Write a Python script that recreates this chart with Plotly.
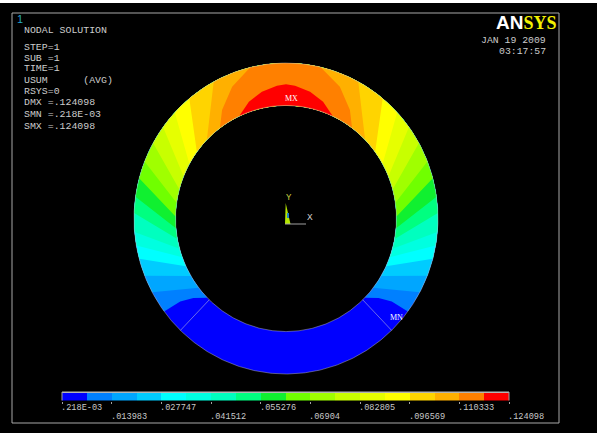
import numpy as np
import plotly.graph_objects as go

# Contour legend: bin edges (USUM) and one colour per bin
bin_edges = [0.000218, 0.0071, 0.013983, 0.020865, 0.027747, 0.03463, 0.041512, 0.048394, 0.055276,
             0.062158, 0.06904, 0.075922, 0.082805, 0.089687, 0.096569, 0.103451, 0.110333, 0.117215, 0.124098]
band_colors = ["#0000ff", "#0080ff", "#00a6ff", "#00ccff", "#00ffff", "#00ffe0", "#00ffbf", "#00ff80",
               "#10f030", "#70ff00", "#a0ff00", "#c8ff00", "#e6ff00", "#ffff00", "#ffd400", "#ffb000",
               "#ff8000", "#ff0000"]
tick_values = [0.000218, 0.013983, 0.027747, 0.041512, 0.055276, 0.06904, 0.082805, 0.096569, 0.110333, 0.124098]
tick_labels = [".218E-03", ".013983", ".027747", ".041512", ".055276", ".06904", ".082805", ".096569", ".110333", ".124098"]

# Contour boundaries on the ring: depth across the wall (0 inner, 1 outer) and the
# angle from the top, one pair of lists per boundary, from the blue end to the red end
boundary_depth = [
    [0, .25, .55, 1], [0, 1], [0, 1], [0, 1], [0, 1], [0, 1], [0, 1], [0, 1],
    [0, 1], [0, 1], [0, 1], [0, 1], [0, 1], [0, 1], [0, 1], [0, .32, .7, 1], [0, .23, .38, .47, .5],
]
boundary_angle = [
    [134.5, 130, 127.5, 126.7], [127.8, 118.3], [120.6, 111.6], [115, 105], [110, 100], [105.5, 95],
    [100.5, 88], [95, 82], [89, 75], [82, 68.5], [75, 61], [68, 54], [61, 47], [53.8, 39.5], [45.7, 28.4],
    [36.7, 31.1, 22.7, 13.6], [25, 18, 11, 4, 0],
]
RING_INNER = 0.727
RING_OUTER = 1.0
ELEMENT_LINE_ANGLE = 136

info_lines = [("NODAL SOLUTION", 30), ("STEP=1", 48), ("SUB =1", 58.5), ("TIME=1", 69), ("USUM      (AVG)", 80),
              ("RSYS=0", 91), ("DMX =.124098", 103), ("SMN =.218E-03", 114), ("SMX =.124098", 126)]
W, H = 597, 433
CX, CY, SX, SY = 286, 218.5, 152, 155.5


def px(x):
    return x / W


def py(y):
    return 1 - y / H


def polar(r, deg):
    t = np.radians(deg)
    return np.asarray(r) * np.sin(t), np.asarray(r) * np.cos(t)


def arc(r, a, b):
    return polar(r, np.linspace(a, b, max(2, int(abs(b - a)) * 2)))


def region(depth, angle):
    depth, angle = np.array(depth, float), np.array(angle, float)
    r = RING_INNER + depth * (RING_OUTER - RING_INNER)
    rx, ry = polar(r, angle)
    lx, ly = polar(r[::-1], -angle[::-1])
    xs, ys = [rx], [ry]
    if depth[-1] == 1:
        ax, ay = arc(RING_OUTER, angle[-1], -angle[-1])
        xs.append(ax); ys.append(ay)
    xs.append(lx); ys.append(ly)
    ax, ay = arc(RING_INNER, -angle[0], angle[0])
    xs.append(ax); ys.append(ay)
    return np.concatenate(xs), np.concatenate(ys)


fig = go.Figure()
ox, oy = arc(RING_OUTER, 0, 360)
ix, iy = arc(RING_INNER, 360, 0)
fig.add_trace(go.Scatter(x=np.concatenate([ox, ix]), y=np.concatenate([oy, iy]), mode="lines", fill="toself",
                         fillcolor=band_colors[0], line=dict(width=0), hoverinfo="skip"))
for color, d, a in zip(band_colors[1:], boundary_depth, boundary_angle):
    x, y = region(d, a)
    fig.add_trace(go.Scatter(x=x, y=y, mode="lines", fill="toself", fillcolor=color,
                             line=dict(width=0), hoverinfo="skip"))
for r in (RING_OUTER, RING_INNER):
    x, y = arc(r, 0, 360)
    fig.add_trace(go.Scatter(x=x, y=y, mode="lines", line=dict(color="rgba(190,190,190,0.65)", width=0.7),
                             hoverinfo="skip"))
for s in (1, -1):
    x, y = polar([RING_INNER, RING_OUTER], s * ELEMENT_LINE_ANGLE)
    fig.add_trace(go.Scatter(x=x, y=y, mode="lines", line=dict(color="rgba(190,190,215,0.8)", width=0.7),
                             hoverinfo="skip"))

widths = np.diff(bin_edges)
fig.add_trace(go.Bar(x=widths, base=bin_edges[:-1], y=["u"] * len(widths), orientation="h", width=1,
                     marker=dict(color=band_colors, line=dict(width=0)), xaxis="x2", yaxis="y2", hoverinfo="skip"))

mono = "Liberation Mono"
ann = []
for text, y in info_lines:
    ann.append(dict(x=px(25), y=py(y), text=text, font=dict(family=mono, size=9.9, color="#cccccc")))
ann.append(dict(x=px(481.5), y=py(40), text="JAN 19 2009", font=dict(family=mono, size=9.8, color="#cccccc")))
ann.append(dict(x=px(499.5), y=py(51.5), text="03:17:57", font=dict(family=mono, size=9.8, color="#cccccc")))
ann.append(dict(x=px(17.5), y=py(19), text="1", font=dict(family="Liberation Sans", size=11, color="#25a8c8")))
ann.append(dict(x=px(497), y=py(22.5),
                text="<b><span style='color:#ffffff;font-family:Liberation Sans;font-size:19px'>AN</span>"
                     "<span style='color:#f4f000;font-family:Liberation Serif;font-size:18px'>SYS</span></b>",
                font=dict(family="Liberation Serif", size=18)))
ann.append(dict(x=px(285.5), y=py(98), text="MX", font=dict(family="Liberation Serif", size=8, color="#ffffff")))
ann.append(dict(x=px(390.5), y=py(317.5), text="MN", font=dict(family="Liberation Serif", size=8, color="#ffffff")))
ann.append(dict(x=px(287), y=py(197.5), text="Y", font=dict(family=mono, size=9, color="#c8d040")))
ann.append(dict(x=px(308), y=py(217.5), text="X", font=dict(family=mono, size=9.5, color="#d0d0d0")))
for i, (v, t) in enumerate(zip(tick_values, tick_labels)):
    ann.append(dict(x=v, xref="x2", y=py(416.5 if i % 2 else 407.5), text=t,
                    font=dict(family=mono, size=8.6, color="#c8c8c8")))
for a in ann:
    a.setdefault("xref", "paper")
    a.update(yref="paper", xanchor="left", yanchor="middle", showarrow=False, borderpad=0, borderwidth=0)
    a.setdefault("xshift", -1)

shapes = [
    dict(type="rect", xref="paper", yref="paper", x0=0, x1=1, y0=py(3), y1=1, fillcolor="#ffffff", line=dict(width=0)),
    dict(type="rect", xref="paper", yref="paper", x0=px(12), x1=px(559), y0=py(423), y1=py(13),
         line=dict(color="#a8a8a8", width=1)),
    dict(type="path", xref="paper", yref="paper",
         path=f"M {px(285.7)} {py(203)} L {px(285)} {py(224)} L {px(290.5)} {py(224)} Z",
         fillcolor="#b4e600", line=dict(width=0)),
    dict(type="rect", xref="paper", yref="paper", x0=px(287), x1=px(289), y0=py(218), y1=py(213),
         fillcolor="#2080c0", line=dict(width=0)),
    dict(type="line", xref="paper", yref="paper", x0=px(285), x1=px(306), y0=py(224), y1=py(224),
         line=dict(color="#a0a0a0", width=1)),
    dict(type="rect", xref="paper", yref="paper", x0=px(62), x1=px(509), y0=py(393), y1=py(391.5),
         fillcolor="#b4b4b4", line=dict(width=0)),
    dict(type="line", xref="paper", yref="paper", x0=px(62), x1=px(62), y0=py(400.5), y1=py(392),
         line=dict(color="#a0a0a0", width=1)),
    dict(type="line", xref="paper", yref="paper", x0=px(509), x1=px(509), y0=py(400.5), y1=py(392),
         line=dict(color="#a0a0a0", width=1)),
]

fig.update_layout(
    width=W, height=H, margin=dict(l=0, r=0, t=0, b=0), autosize=False, showlegend=False,
    paper_bgcolor="#000000", plot_bgcolor="#000000", annotations=ann, shapes=shapes, bargap=0,
    xaxis=dict(domain=[0, 1], range=[(0 - CX) / SX, (W - CX) / SX], visible=False, fixedrange=True),
    yaxis=dict(domain=[0, 1], range=[(CY - H) / SY, CY / SY], visible=False, fixedrange=True),
    xaxis2=dict(domain=[px(62), px(509)], range=[bin_edges[0], bin_edges[-1]], anchor="y2", showgrid=False,
                zeroline=False, tickmode="array", tickvals=tick_values, ticktext=[""] * len(tick_values),
                ticks="outside", ticklen=2, tickwidth=1, tickcolor="#a0a0a0", showline=False, fixedrange=True),
    yaxis2=dict(domain=[py(400.5), py(393)], anchor="x2", visible=False, fixedrange=True),
)
fig.write_html("out.html", config=dict(displayModeBar=False),
               post_script="document.body.style.margin='0';")
